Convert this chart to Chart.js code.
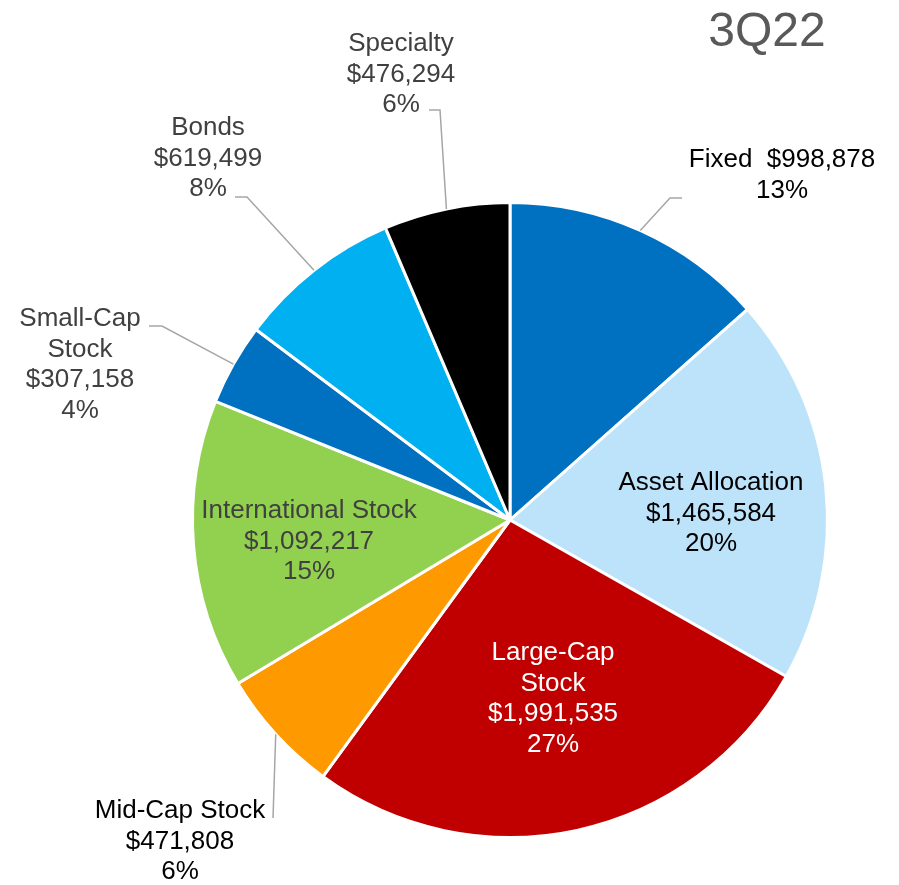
<!DOCTYPE html>
<html>
<head>
<meta charset="utf-8">
<script src="https://cdn.jsdelivr.net/npm/chart.js@4"></script>
<style>
  body { margin: 0; background: #fff; }
  canvas { display: block; }
</style>
</head>
<body>
<canvas id="chart" width="899" height="885"></canvas>
<script>
var title = '3Q22';
var categories = ['Fixed', 'Asset Allocation', 'Large-Cap Stock', 'Mid-Cap Stock',
  'International Stock', 'Small-Cap Stock', 'Bonds', 'Specialty'];
var values = [998878, 1465584, 1991535, 471808, 1092217, 307158, 619499, 476294];
var colors = ['#0070C0', '#BDE3FB', '#C00000', '#FF9900', '#92D050', '#0070C0', '#00B0F0', '#000000'];

// label placement, offsets from the pie centre (px)
var labelLayout = [
  { dx: 272, dy: -353, color: '#000000', nameLines: ['Fixed'], inline: true, leader: [[160, -322], [172, -322]] },
  { dx: 201, dy: -30, color: '#000000', nameLines: ['Asset Allocation'] },
  { dx: 43, dy: 140, color: '#FFFFFF', nameLines: ['Large-Cap', 'Stock'] },
  { dx: -330, dy: 298, color: '#000000', nameLines: ['Mid-Cap Stock'], leader: [[-237, 298]] },
  { dx: -201, dy: -2, color: '#404040', nameLines: ['International Stock'] },
  { dx: -430, dy: -194, color: '#404040', nameLines: ['Small-Cap', 'Stock'], leader: [[-348, -194], [-361, -194]] },
  { dx: -302, dy: -385, color: '#404040', nameLines: ['Bonds'], leader: [[-263, -323], [-275, -323]] },
  { dx: -109, dy: -469, color: '#404040', nameLines: ['Specialty'], leader: [[-70, -410], [-81, -410]] }
];

var total = values.reduce(function (a, b) { return a + b; }, 0);

function money(v) {
  return '$' + v.toString().replace(/\B(?=(\d{3})+(?!\d))/g, ',');
}

var pieLabels = {
  id: 'pieLabels',
  afterDatasetsDraw: function (chart) {
    var ctx = chart.ctx;
    var arcs = chart.getDatasetMeta(0).data;
    ctx.save();
    arcs.forEach(function (arc, i) {
      var lay = labelLayout[i];
      var cx = arc.x, cy = arc.y;
      if (lay.leader) {
        var mid = (arc.startAngle + arc.endAngle) / 2;
        ctx.beginPath();
        ctx.moveTo(cx + Math.cos(mid) * arc.outerRadius, cy + Math.sin(mid) * arc.outerRadius);
        lay.leader.forEach(function (p) { ctx.lineTo(cx + p[0], cy + p[1]); });
        ctx.strokeStyle = '#A6A6A6';
        ctx.lineWidth = 1.5;
        ctx.stroke();
      }
      var money1 = money(values[i]);
      var pct = Math.round(values[i] / total * 100) + '%';
      var lines;
      if (lay.inline) {
        lines = [lay.nameLines.join(' ') + '  ' + money1, pct];
      } else {
        lines = lay.nameLines.concat([money1, pct]);
      }
      ctx.fillStyle = lay.color;
      ctx.font = '26px "Liberation Sans", Arial, sans-serif';
      ctx.textAlign = 'center';
      ctx.textBaseline = 'alphabetic';
      lines.forEach(function (t, k) {
        ctx.fillText(t, cx + lay.dx, cy + lay.dy + k * 30.7);
      });
    });
    ctx.fillStyle = '#595959';
    ctx.font = '48px "Liberation Sans", Arial, sans-serif';
    ctx.textAlign = 'center';
    ctx.fillText(title, 767, 46);
    ctx.restore();
  }
};

new Chart(document.getElementById('chart'), {
  type: 'pie',
  data: {
    labels: categories,
    datasets: [{
      data: values,
      backgroundColor: colors,
      borderColor: '#FFFFFF',
      borderWidth: 3
    }]
  },
  options: {
    responsive: false,
    animation: false,
    layout: { padding: { top: 201, bottom: 46, left: 191, right: 70 } },
    plugins: {
      legend: { display: false },
      tooltip: { enabled: false }
    }
  },
  plugins: [pieLabels]
});
</script>
</body>
</html>
